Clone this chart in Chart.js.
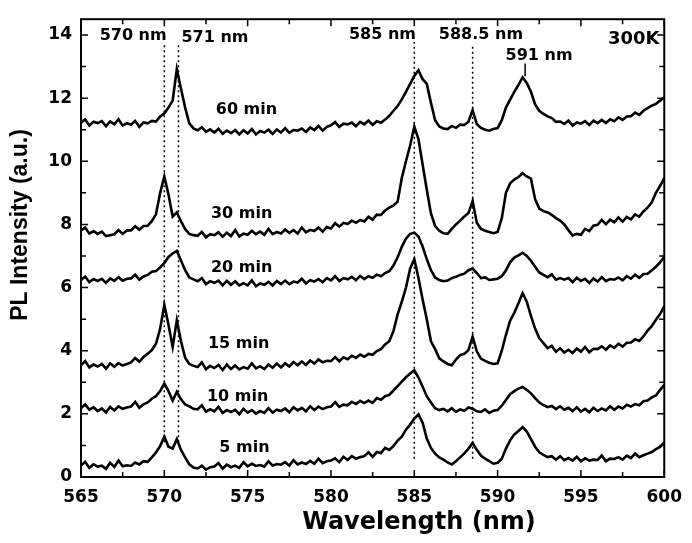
<!DOCTYPE html>
<html>
<head>
<meta charset="utf-8">
<script src="https://cdn.jsdelivr.net/npm/chart.js@4.4.1/dist/chart.umd.min.js"></script>
<style>
  html, body { margin: 0; padding: 0; background: #fff; }
  #graph { display: block; }
</style>
</head>
<body>
<canvas id="graph" width="692" height="543"></canvas>
<script>
// wavelength grid (nm)
const wavelengths = [
  565, 565.25, 565.5, 565.75, 566, 566.25, 566.5, 566.75, 567, 567.25, 567.5, 567.75,
  568, 568.25, 568.5, 568.75, 569, 569.25, 569.5, 569.75, 570, 570.25, 570.5, 570.75,
  571, 571.25, 571.5, 571.75, 572, 572.25, 572.5, 572.75, 573, 573.25, 573.5, 573.75,
  574, 574.25, 574.5, 574.75, 575, 575.25, 575.5, 575.75, 576, 576.25, 576.5, 576.75,
  577, 577.25, 577.5, 577.75, 578, 578.25, 578.5, 578.75, 579, 579.25, 579.5, 579.75,
  580, 580.25, 580.5, 580.75, 581, 581.25, 581.5, 581.75, 582, 582.25, 582.5, 582.75,
  583, 583.25, 583.5, 583.75, 584, 584.25, 584.5, 584.75, 585, 585.25, 585.5, 585.75,
  586, 586.25, 586.5, 586.75, 587, 587.25, 587.5, 587.75, 588, 588.25, 588.5, 588.75,
  589, 589.25, 589.5, 589.75, 590, 590.25, 590.5, 590.75, 591, 591.25, 591.5, 591.75,
  592, 592.25, 592.5, 592.75, 593, 593.25, 593.5, 593.75, 594, 594.25, 594.5, 594.75,
  595, 595.25, 595.5, 595.75, 596, 596.25, 596.5, 596.75, 597, 597.25, 597.5, 597.75,
  598, 598.25, 598.5, 598.75, 599, 599.25, 599.5, 599.75, 600
];

// PL intensity (a.u.), curves already offset as in the figure
const min5 = [
  0.37, 0.48, 0.29, 0.40, 0.33, 0.36, 0.26, 0.45, 0.32, 0.52, 0.34, 0.37,
  0.35, 0.46, 0.40, 0.50, 0.48, 0.62, 0.78, 0.98, 1.28, 0.96, 0.90, 1.20,
  0.86, 0.62, 0.40, 0.30, 0.27, 0.36, 0.23, 0.31, 0.33, 0.44, 0.27, 0.39,
  0.31, 0.36, 0.29, 0.47, 0.34, 0.42, 0.35, 0.38, 0.33, 0.50, 0.36, 0.41,
  0.39, 0.47, 0.36, 0.53, 0.40, 0.46, 0.41, 0.51, 0.42, 0.58, 0.44, 0.50,
  0.52, 0.59, 0.47, 0.64, 0.54, 0.66, 0.58, 0.63, 0.66, 0.78, 0.64, 0.79,
  0.76, 0.92, 0.86, 0.98, 1.15, 1.28, 1.50, 1.66, 1.85, 1.98, 1.72, 1.22,
  0.92, 0.74, 0.62, 0.55, 0.46, 0.40, 0.50, 0.62, 0.75, 0.90, 1.08, 0.86,
  0.68, 0.58, 0.50, 0.42, 0.45, 0.58, 0.90, 1.16, 1.35, 1.46, 1.58, 1.44,
  1.20, 0.96, 0.78, 0.70, 0.63, 0.66, 0.55, 0.66, 0.53, 0.60, 0.52, 0.64,
  0.50, 0.59, 0.52, 0.55, 0.54, 0.68, 0.50, 0.58, 0.57, 0.63, 0.55, 0.68,
  0.60, 0.74, 0.63, 0.69, 0.74, 0.79, 0.88, 0.95, 1.10
];
const min10 = [
  2.18, 2.30, 2.13, 2.21, 2.09, 2.17, 2.04, 2.22, 2.11, 2.24, 2.16, 2.20,
  2.23, 2.38, 2.19, 2.30, 2.36, 2.48, 2.56, 2.72, 2.96, 2.72, 2.42, 2.70,
  2.46, 2.30, 2.24, 2.16, 2.14, 2.27, 2.07, 2.15, 2.08, 2.22, 2.03, 2.12,
  2.06, 2.13, 1.99, 2.16, 2.04, 2.12, 2.01, 2.09, 2.03, 2.18, 2.04, 2.13,
  2.09, 2.17, 2.05, 2.21, 2.11, 2.19, 2.08, 2.24, 2.12, 2.23, 2.15, 2.21,
  2.23, 2.37, 2.22, 2.29, 2.27, 2.38, 2.31, 2.41, 2.34, 2.42, 2.35, 2.50,
  2.45, 2.56, 2.60, 2.74, 2.88, 3.02, 3.16, 3.28, 3.38, 3.15, 2.86, 2.56,
  2.36, 2.18, 2.12, 2.16, 2.08, 2.18, 2.06, 2.14, 2.10, 2.20, 2.16, 2.08,
  2.06, 2.14, 2.03, 2.10, 2.12, 2.26, 2.44, 2.62, 2.72, 2.80, 2.85, 2.76,
  2.65, 2.50, 2.36, 2.28, 2.21, 2.25, 2.15, 2.24, 2.13, 2.19, 2.09, 2.21,
  2.07, 2.16, 2.05, 2.19, 2.09, 2.17, 2.11, 2.24, 2.13, 2.23, 2.17, 2.29,
  2.23, 2.31, 2.27, 2.40, 2.42, 2.52, 2.58, 2.76, 2.92
];
const min15 = [
  3.54, 3.67, 3.47, 3.56, 3.50, 3.58, 3.43, 3.60, 3.49, 3.61, 3.53, 3.58,
  3.63, 3.77, 3.65, 3.80, 3.90, 4.02, 4.22, 4.70, 5.45, 4.82, 4.12, 4.96,
  4.30, 3.78, 3.58, 3.52, 3.48, 3.63, 3.41, 3.52, 3.45, 3.55, 3.39, 3.56,
  3.42, 3.53, 3.41, 3.48, 3.43, 3.60, 3.44, 3.51, 3.42, 3.56, 3.46, 3.59,
  3.47, 3.60, 3.50, 3.64, 3.54, 3.66, 3.55, 3.69, 3.59, 3.72, 3.63, 3.68,
  3.67, 3.80, 3.66, 3.79, 3.73, 3.84, 3.77, 3.88, 3.81, 3.90, 3.87, 3.99,
  4.05, 4.20, 4.30, 4.62, 5.15, 5.55, 6.00, 6.60, 6.90, 6.30, 5.62, 5.00,
  4.30, 4.05, 3.76, 3.66, 3.58, 3.54, 3.72, 3.86, 3.90, 4.02, 4.45, 3.98,
  3.75, 3.68, 3.62, 3.58, 3.60, 4.00, 4.50, 4.95, 5.20, 5.50, 5.82, 5.55,
  5.10, 4.70, 4.40, 4.24, 4.08, 4.15, 3.97, 4.08, 3.94, 4.03, 3.93, 4.07,
  3.97, 4.12, 3.95, 4.06, 4.05, 4.14, 4.03, 4.17, 4.09, 4.22, 4.13, 4.25,
  4.26, 4.36, 4.31, 4.45, 4.64, 4.78, 4.98, 5.16, 5.41
];
const min20 = [
  6.24, 6.35, 6.17, 6.27, 6.21, 6.28, 6.15, 6.29, 6.21, 6.33, 6.22, 6.28,
  6.29, 6.41, 6.25, 6.35, 6.40, 6.50, 6.52, 6.64, 6.78, 6.97, 7.08, 7.16,
  6.86, 6.55, 6.32, 6.26, 6.20, 6.30, 6.11, 6.20, 6.15, 6.22, 6.07, 6.21,
  6.09, 6.20, 6.07, 6.14, 6.07, 6.23, 6.04, 6.13, 6.09, 6.18, 6.07, 6.21,
  6.11, 6.22, 6.11, 6.19, 6.16, 6.28, 6.13, 6.23, 6.19, 6.27, 6.17, 6.30,
  6.23, 6.36, 6.21, 6.30, 6.26, 6.34, 6.23, 6.37, 6.27, 6.36, 6.31, 6.41,
  6.36, 6.46, 6.52, 6.70, 6.96, 7.29, 7.55, 7.70, 7.74, 7.62, 7.30, 6.90,
  6.55, 6.32, 6.24, 6.20, 6.22, 6.30, 6.34, 6.40, 6.44, 6.55, 6.60, 6.46,
  6.30, 6.32, 6.24, 6.26, 6.28, 6.36, 6.55, 6.80, 6.95, 7.02, 7.10, 7.00,
  6.85, 6.66, 6.48, 6.40, 6.33, 6.42, 6.25, 6.30, 6.25, 6.30, 6.17, 6.31,
  6.21, 6.28, 6.15, 6.29, 6.19, 6.33, 6.20, 6.27, 6.25, 6.32, 6.23, 6.36,
  6.28, 6.41, 6.31, 6.43, 6.44, 6.55, 6.66, 6.80, 6.97
];
const min30 = [
  7.80, 7.90, 7.71, 7.79, 7.70, 7.77, 7.63, 7.66, 7.69, 7.82, 7.70, 7.81,
  7.81, 7.94, 7.83, 7.95, 7.96, 8.10, 8.32, 9.00, 9.52, 8.95, 8.25, 8.38,
  8.10, 7.85, 7.70, 7.66, 7.64, 7.76, 7.59, 7.69, 7.66, 7.75, 7.61, 7.74,
  7.63, 7.82, 7.62, 7.71, 7.67, 7.80, 7.69, 7.77, 7.67, 7.86, 7.69, 7.76,
  7.71, 7.84, 7.73, 7.82, 7.71, 7.90, 7.75, 7.83, 7.79, 7.90, 7.77, 7.92,
  7.87, 8.04, 7.93, 8.05, 8.01, 8.12, 8.05, 8.14, 8.09, 8.24, 8.15, 8.31,
  8.30, 8.44, 8.53, 8.60, 8.72, 9.47, 10.00, 10.50, 11.10, 10.70, 9.90, 9.10,
  8.35, 7.95, 7.80, 7.72, 7.70, 7.86, 8.00, 8.12, 8.25, 8.36, 8.74, 8.05,
  7.86, 7.80, 7.76, 7.72, 7.76, 8.20, 9.00, 9.30, 9.42, 9.50, 9.62, 9.52,
  9.45, 8.80, 8.50, 8.42, 8.38, 8.30, 8.20, 8.12, 8.00, 7.82, 7.65, 7.70,
  7.67, 7.86, 7.79, 7.96, 7.99, 8.14, 8.01, 8.15, 8.07, 8.22, 8.09, 8.24,
  8.16, 8.32, 8.25, 8.41, 8.53, 8.70, 9.00, 9.22, 9.47
];
const min60 = [
  11.23, 11.32, 11.13, 11.25, 11.21, 11.27, 11.11, 11.26, 11.17, 11.33, 11.13, 11.21,
  11.16, 11.28, 11.09, 11.23, 11.20, 11.28, 11.26, 11.42, 11.52, 11.70, 11.92, 12.92,
  12.30, 11.70, 11.20, 11.04, 10.98, 11.08, 10.93, 11.01, 10.91, 11.03, 10.87, 10.97,
  10.89, 10.99, 10.85, 10.98, 10.88, 11.02, 10.85, 10.96, 10.91, 11.00, 10.87, 11.01,
  10.91, 11.05, 10.90, 10.99, 10.97, 11.04, 10.93, 11.07, 10.99, 11.12, 10.97, 11.09,
  11.14, 11.24, 11.09, 11.19, 11.17, 11.23, 11.11, 11.25, 11.17, 11.29, 11.15, 11.27,
  11.22, 11.32, 11.44, 11.60, 11.75, 11.96, 12.20, 12.45, 12.70, 12.88, 12.60, 12.45,
  11.85, 11.30, 11.10, 11.04, 11.02, 11.12, 11.06, 11.16, 11.15, 11.25, 11.62, 11.18,
  11.06, 11.00, 10.97, 11.02, 11.05, 11.30, 11.70, 11.95, 12.20, 12.42, 12.66, 12.48,
  12.20, 11.80, 11.60, 11.50, 11.42, 11.37, 11.25, 11.26, 11.18, 11.29, 11.13, 11.23,
  11.19, 11.27, 11.15, 11.29, 11.21, 11.31, 11.21, 11.33, 11.27, 11.39, 11.31, 11.42,
  11.43, 11.54, 11.47, 11.60, 11.68, 11.76, 11.82, 11.92, 12.02
];

// peak markers: [wavelength, from y, to y, dashed]
const markers = [
  [570, 1.1, 13.7, true],
  [570.85, 1.1, 13.7, true],
  [585, 0.58, 13.78, true],
  [588.5, 0.58, 13.72, true],
  [591.65, 12.69, 13.1, false]
];

// text notes: [text, x (nm), y (a.u.), font size]
const notes = [
  ['570 nm', 568.13, 13.98, 16],
  ['571 nm', 573.04, 13.92, 16],
  ['585 nm', 583.09, 14.0, 16],
  ['588.5 nm', 589.0, 14.0, 16],
  ['591 nm', 592.49, 13.33, 16],
  ['300K', 598.17, 13.87, 18],
  ['60 min', 574.93, 11.63, 16],
  ['30 min', 574.64, 8.35, 16],
  ['20 min', 574.64, 6.64, 16],
  ['15 min', 574.46, 4.23, 16],
  ['10 min', 574.4, 2.55, 16],
  ['5 min', 574.81, 0.93, 16]
];

const xTicks = [565, 570, 575, 580, 585, 590, 595, 600];
const xMinor = [567.5, 572.5, 577.5, 582.5, 587.5, 592.5, 597.5];
const yTicks = [0, 2, 4, 6, 8, 10, 12, 14];
const yMinor = [1, 3, 5, 7, 9, 11, 13];

const series = [min5, min10, min15, min20, min30, min60];
const FONT = '"DejaVu Sans", Arial, sans-serif';

const datasets = series.map(s => ({
  data: wavelengths.map((w, i) => ({x: w, y: s[i]})),
  borderColor: '#000',
  borderWidth: 2.6,
  pointRadius: 0,
  tension: 0
}));
markers.forEach(m => {
  datasets.push({
    data: [{x: m[0], y: m[1]}, {x: m[0], y: m[2]}],
    borderColor: '#000',
    borderWidth: 1.5,
    borderDash: m[3] ? [2, 3] : [],
    pointRadius: 0
  });
});

const decor = {
  id: 'decor',
  afterDraw(chart) {
    const {ctx, chartArea: a, scales: {x, y}} = chart;
    ctx.save();
    ctx.strokeStyle = '#000';
    ctx.lineWidth = 2;
    ctx.strokeRect(a.left, a.top, a.right - a.left, a.bottom - a.top);

    ctx.lineWidth = 1.5;
    ctx.beginPath();
    const xm = (v, len) => {
      const p = x.getPixelForValue(v);
      ctx.moveTo(p, a.bottom); ctx.lineTo(p, a.bottom - len);
      ctx.moveTo(p, a.top); ctx.lineTo(p, a.top + len);
    };
    const ym = (v, len) => {
      const p = y.getPixelForValue(v);
      ctx.moveTo(a.left, p); ctx.lineTo(a.left + len, p);
      ctx.moveTo(a.right, p); ctx.lineTo(a.right - len, p);
    };
    xTicks.forEach(v => xm(v, 7));
    xMinor.forEach(v => xm(v, 5));
    yTicks.forEach(v => ym(v, 7));
    yMinor.forEach(v => ym(v, 5));
    ctx.stroke();

    ctx.fillStyle = '#000';
    ctx.textAlign = 'center';
    ctx.textBaseline = 'middle';
    notes.forEach(n => {
      ctx.font = 'bold ' + n[3] + 'px ' + FONT;
      ctx.fillText(n[0], x.getPixelForValue(n[1]), y.getPixelForValue(n[2]));
    });

    ctx.font = 'bold 24px ' + FONT;
    ctx.fillText('Wavelength (nm)', 419, 523);

    ctx.translate(21, 225);
    ctx.rotate(-Math.PI / 2);
    ctx.font = 'bold 23px "Liberation Sans", Arial, sans-serif';
    ctx.fillText('PL Intensity (a.u.)', 0, 0);
    ctx.restore();
  }
};

new Chart(document.getElementById('graph'), {
  type: 'line',
  data: {datasets},
  options: {
    responsive: false,
    devicePixelRatio: 1,
    animation: false,
    layout: {padding: {top: 11, right: 19, left: 0, bottom: 0}},
    plugins: {legend: {display: false}, tooltip: {enabled: false}},
    scales: {
      x: {
        type: 'linear',
        min: 565,
        max: 600,
        grid: {display: false, drawTicks: false},
        border: {display: false},
        ticks: {stepSize: 5, color: '#000', padding: 10, font: {family: FONT, size: 17, weight: 'bold'}},
        afterFit: s => { s.height = 66; }
      },
      y: {
        min: 0,
        max: 14.5,
        grid: {display: false, drawTicks: false},
        border: {display: false},
        ticks: {color: '#000', padding: 9, font: {family: FONT, size: 17, weight: 'bold'}},
        afterBuildTicks: s => { s.ticks = yTicks.map(v => ({value: v})); },
        afterFit: s => { s.width = 81; }
      }
    }
  },
  plugins: [decor]
});
</script>
</body>
</html>
